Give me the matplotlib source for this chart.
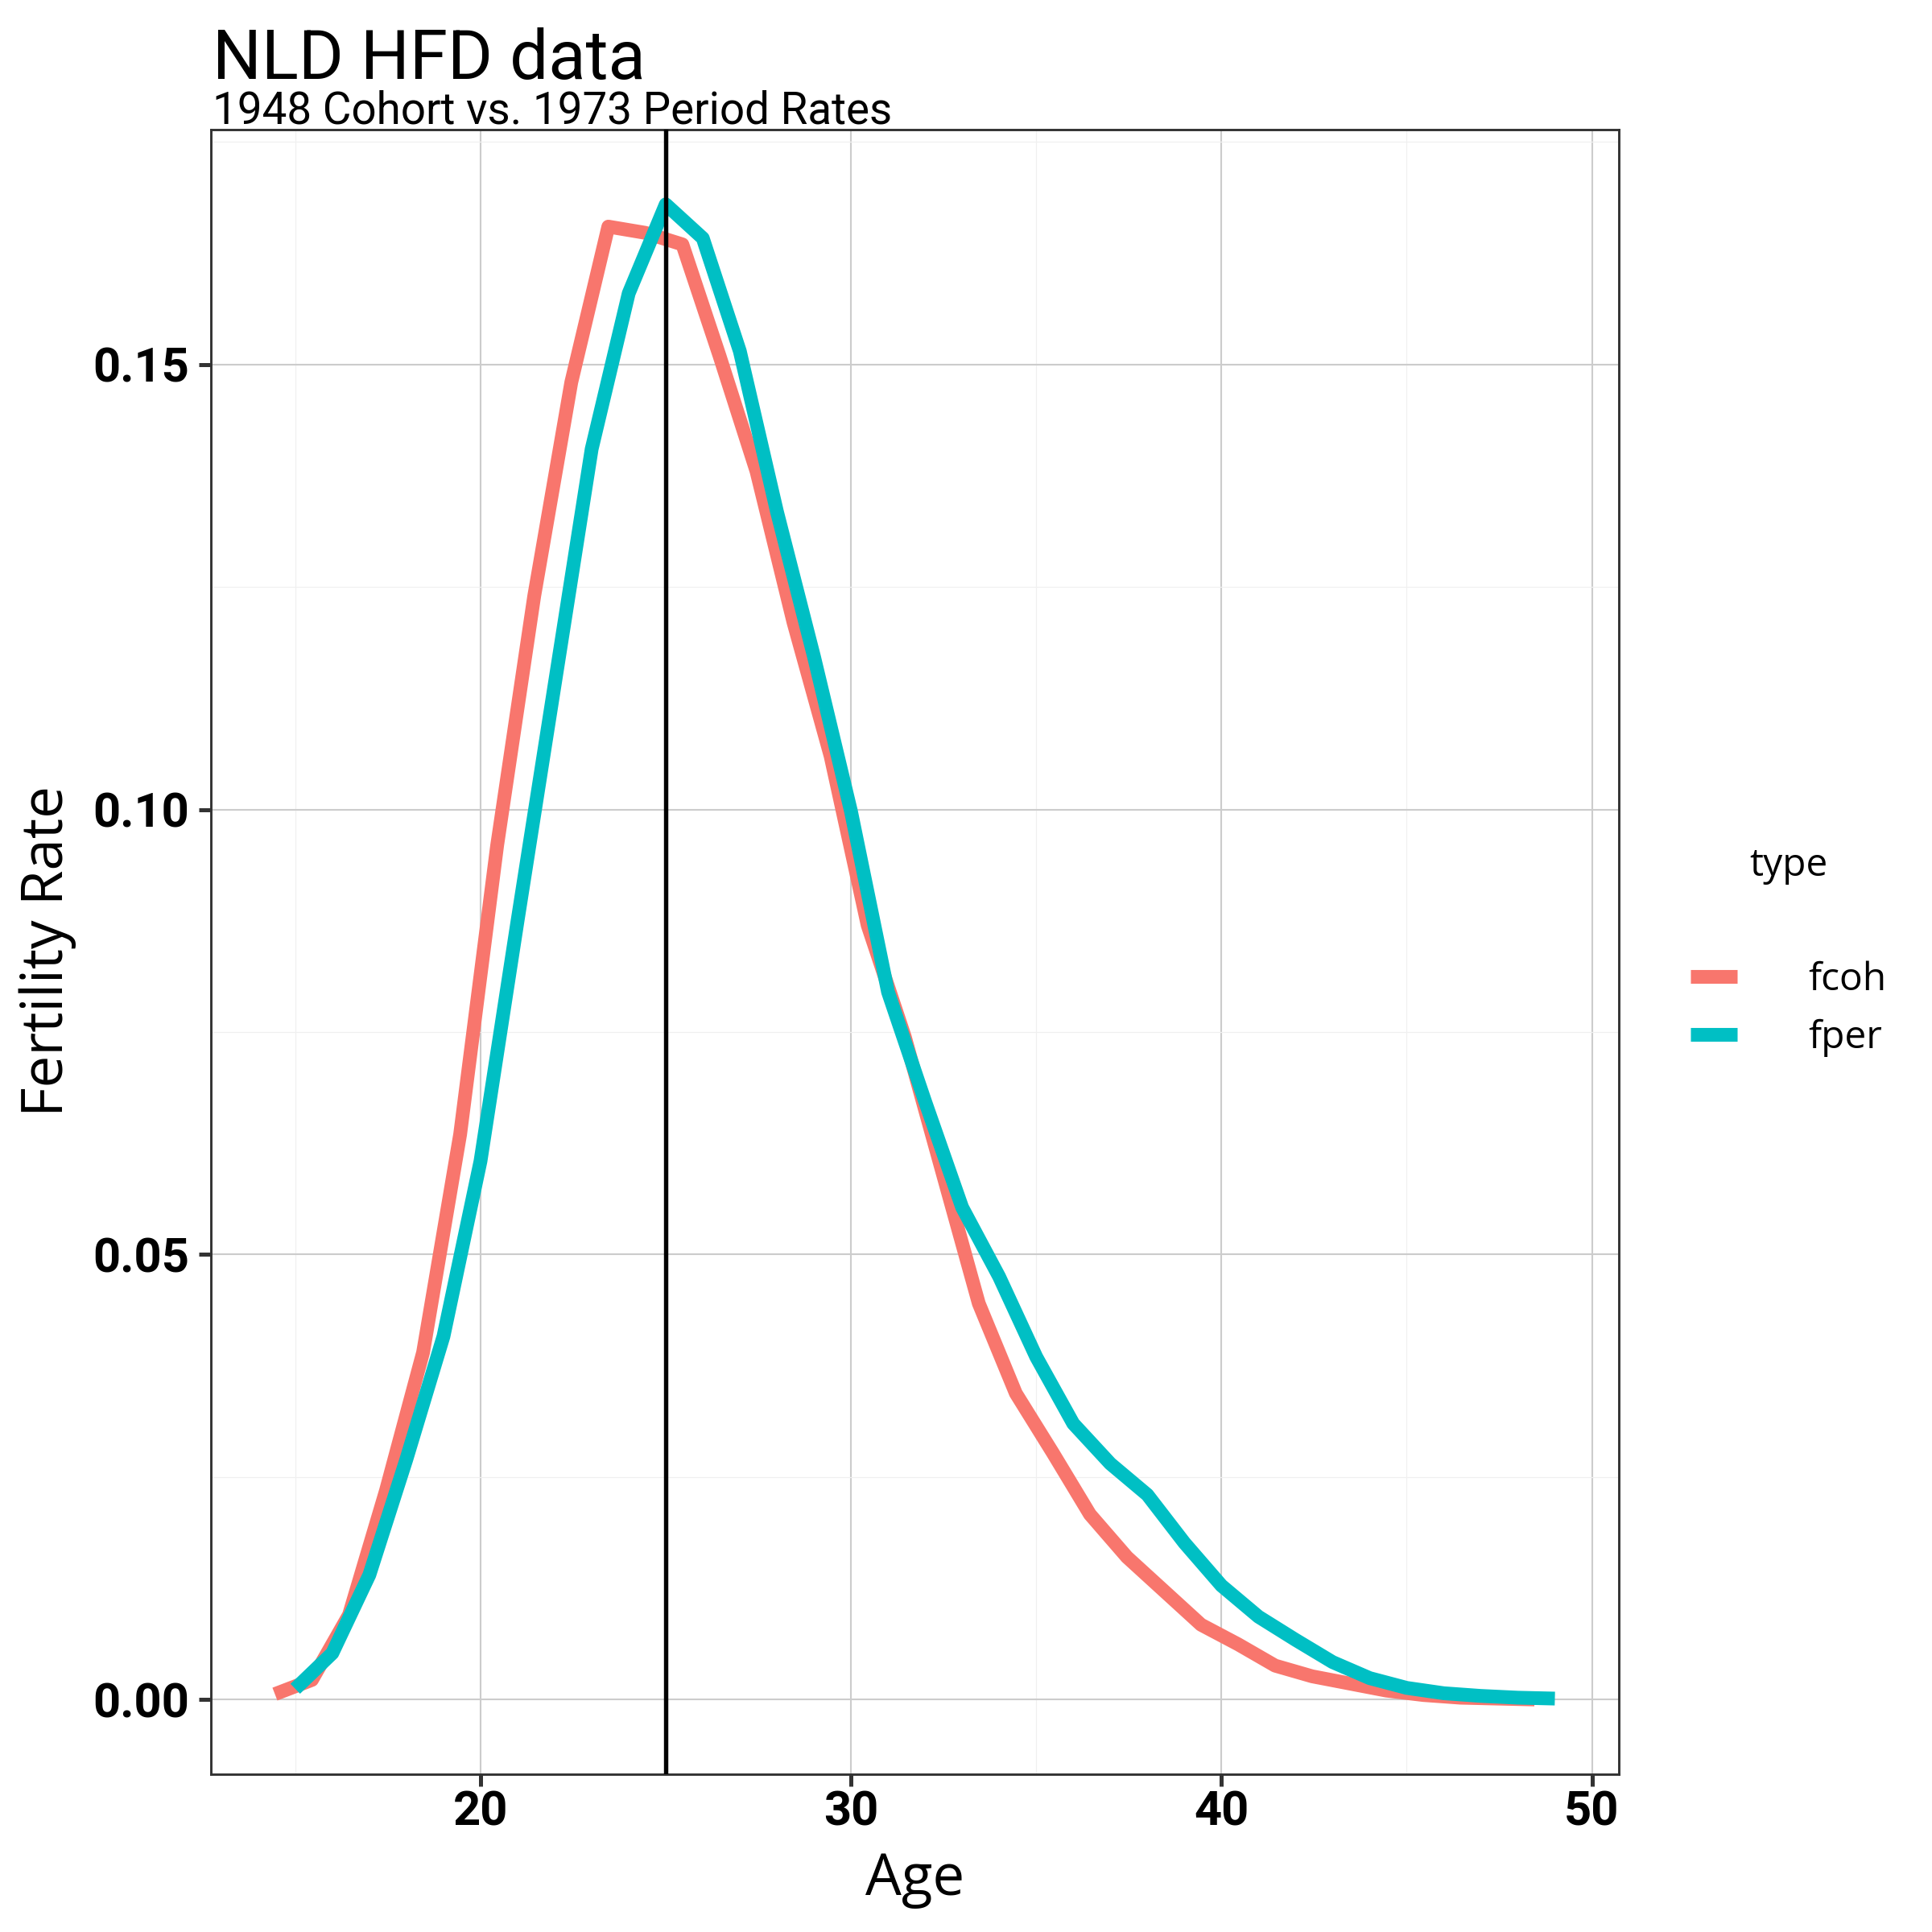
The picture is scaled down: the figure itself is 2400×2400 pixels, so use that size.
import numpy as np
import matplotlib
matplotlib.use('Agg')
import matplotlib.pyplot as plt
from matplotlib.ticker import MultipleLocator

# Period rates, 1973 (single year of age)
fper_age = [15, 16, 17, 18, 19, 20, 21, 22, 23, 24, 25, 26, 27, 28, 29, 30, 31,
            32, 33, 34, 35, 36, 37, 38, 39, 40, 41, 42, 43, 44, 45, 46, 47, 48, 49]
fper = [0.0012, 0.0052, 0.0140, 0.0270, 0.0408, 0.0605, 0.0875, 0.1140, 0.1405,
        0.1580, 0.1680, 0.1642, 0.1515, 0.1335, 0.1172, 0.0998, 0.0795, 0.0672,
        0.0553, 0.0475, 0.0385, 0.0310, 0.0265, 0.0230, 0.0176, 0.0128, 0.0093,
        0.0067, 0.0042, 0.0024, 0.0013, 0.0007, 0.0004, 0.0002, 0.0001]

# Cohort rates, 1948 cohort
fcoh_age = [14.45, 15.45, 16.45, 17.45, 18.45, 19.45, 20.45, 21.45, 22.45, 23.45,
            24.45, 25.45, 26.45, 27.45, 28.45, 29.45, 30.45, 31.45, 32.45, 33.45,
            34.45, 35.45, 36.45, 37.45, 38.45, 39.45, 40.45, 41.45, 42.45, 43.45,
            44.45, 45.45, 46.45, 47.45, 48.45]
fcoh = [0.0006, 0.0022, 0.0095, 0.0235, 0.0390, 0.0635, 0.0960, 0.1240, 0.1480,
        0.1655, 0.1648, 0.1635, 0.1510, 0.1380, 0.1210, 0.1060, 0.0870, 0.0745,
        0.0595, 0.0445, 0.0344, 0.0277, 0.0208, 0.0160, 0.0122, 0.0084, 0.0062,
        0.0038, 0.0026, 0.0018, 0.0010, 0.0005, 0.0002, 0.0001, 0.0000]

ref_age = 25
series = ['fcoh', 'fper']
colors = {'fcoh': '#F8766D', 'fper': '#00BFC4'}

W = 2400
fig = plt.figure(figsize=(8, 8), dpi=300)
ax = fig.add_axes([262 / W, 1 - 2204 / W, (2011 - 262) / W, (2204 - 161) / W])

l1, = ax.plot(fcoh_age, fcoh, color=colors['fcoh'], lw=4.1,
              solid_capstyle='butt', solid_joinstyle='round', zorder=3)
l2, = ax.plot(fper_age, fper, color=colors['fper'], lw=4.1,
              solid_capstyle='butt', solid_joinstyle='round', zorder=4)
ax.axvline(ref_age, color='black', lw=1.3, zorder=5)

# ggplot-style 5% expansion
xmin, xmax = min(fcoh_age), max(fper_age)
ymin, ymax = 0, max(fper)
ax.set_xlim(xmin - 0.05 * (xmax - xmin), xmax + 0.05 * (xmax - xmin))
ax.set_ylim(ymin - 0.05 * (ymax - ymin), ymax + 0.05 * (ymax - ymin))

ax.xaxis.set_major_locator(MultipleLocator(10))
ax.xaxis.set_minor_locator(MultipleLocator(5))
ax.yaxis.set_major_locator(MultipleLocator(0.05))
ax.yaxis.set_minor_locator(MultipleLocator(0.025))
ax.yaxis.set_major_formatter(matplotlib.ticker.FormatStrFormatter('%.2f'))

ax.grid(which='major', color='#CCCCCC', lw=0.5, zorder=0)
ax.grid(which='minor', color='#F0F0F0', lw=0.3, zorder=0)
ax.set_axisbelow(True)
ax.tick_params(which='minor', length=0)
ax.tick_params(which='major', length=3.6, width=1.2, color='#333333',
               labelsize=14.3, labelcolor='black')
ax.tick_params(axis='y', pad=2.9)
ax.tick_params(axis='x', pad=1.0)
for lab in ax.get_xticklabels() + ax.get_yticklabels():
    lab.set_fontfamily('Roboto')
    lab.set_fontweight('bold')
for sp in ax.spines.values():
    sp.set_color('#333333')
    sp.set_linewidth(0.7)

fig.text(264 / W, 1 - 98 / W, 'NLD HFD data', family='Roboto', fontsize=20.5,
         ha='left', va='baseline')
fig.text(264 / W, 1 - 154 / W, '1948 Cohort vs. 1973 Period Rates', family='Roboto',
         fontsize=13.15, ha='left', va='baseline')
fig.text((262 + 2011) / 2 / W, 1 - 2354 / W, 'Age', family='Open Sans', fontsize=17,
         ha='center', va='baseline')
fig.text(59 / W, 1 - 1182 / W, 'Fertility Rate', family='Open Sans', fontsize=17,
         rotation=90, ha='center', va='center')

fig.text(2173 / W, 1 - 1088 / W, 'type', family='Open Sans', fontsize=11.5,
         ha='left', va='baseline')
leg = fig.legend([l1, l2], series, loc='center left',
                 bbox_to_anchor=(2100 / W, 1 - 1253 / W), frameon=False,
                 borderpad=0, borderaxespad=0, handlelength=1.2, handletextpad=1.85,
                 labelspacing=0.51, prop={'family': 'Open Sans', 'size': 11.5})

fig.savefig('out.png', dpi=300, facecolor='white')
